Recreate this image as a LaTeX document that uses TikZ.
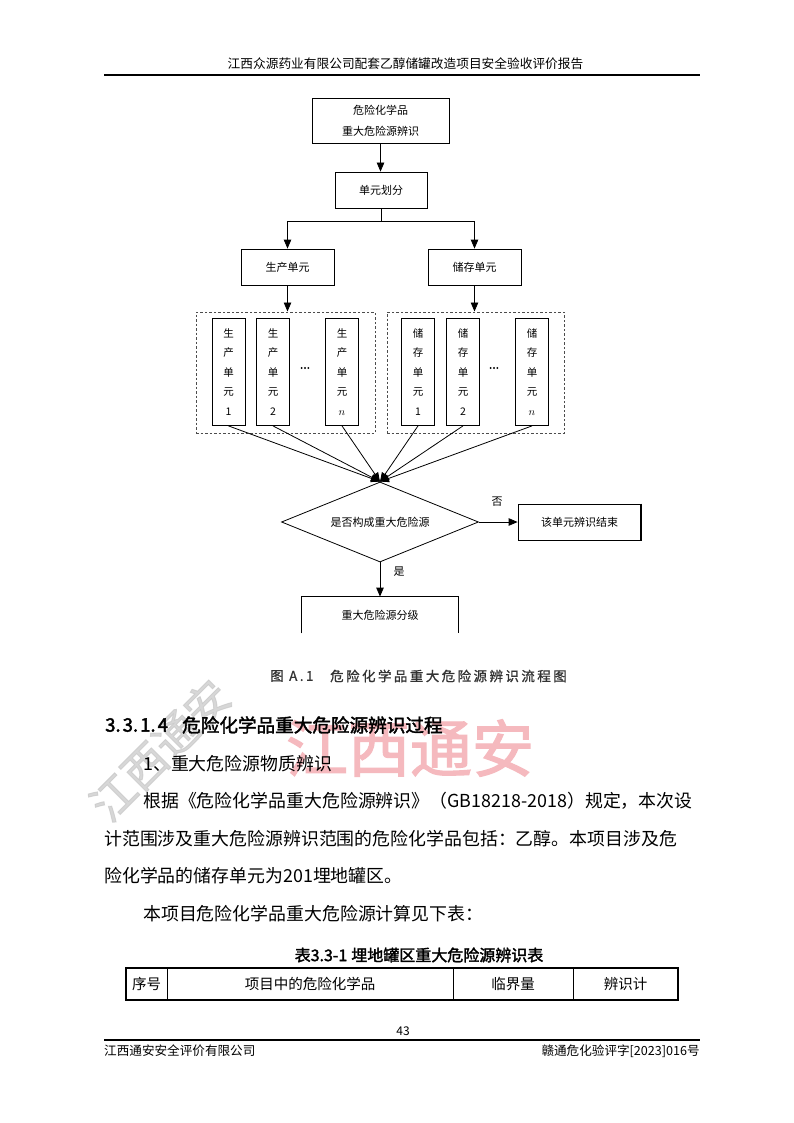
\documentclass[tikz,border=0pt]{standalone}
\usepackage{fontspec}
\setmainfont{Noto Sans CJK SC}
\newfontfamily\cjkbold[FakeBold=2]{Noto Sans CJK SC}
\newfontfamily\capfont[LetterSpace=18,FakeBold=1]{Noto Sans CJK SC}
\usepackage{tikz}
\usetikzlibrary{arrows.meta}
\usetikzlibrary{shapes.geometric}
\usepackage{xcolor}
\definecolor{wmpink}{RGB}{245,185,190}
\newcommand\setfs[1]{\fontsize{#1}{#1}\selectfont}

\begin{document}
\begin{tikzpicture}[x=1pt,y=-1pt,
    box/.style={draw, line width=0.8pt, inner sep=0pt, align=center, font=\setfs{11}},
    unitbox/.style={box, minimum width=33pt, minimum height=107pt, font=\fontsize{10.5}{19.5}\selectfont},
    grpbox/.style={draw=black!70, line width=1pt, dash pattern=on 2.5pt off 2pt, minimum height=121pt, inner sep=0pt},
    arr/.style={-{Triangle[length=9pt,width=7.5pt]}, line width=0.8pt},
    body/.style={anchor=west, inner sep=0pt, font=\setfs{17.9}},
    cell/.style={inner sep=0pt, font=\setfs{14.5}},
    rule/.style={line width=2.2pt}]
    % Page
    \fill[white] (0,0) rectangle (794,1123);
    \useasboundingbox (0,0) rectangle (794,1123);

    % Watermarks
    \node[text=wmpink, font=\cjkbold\setfs{62}, inner sep=0pt] (wmark) at (410,748) {江西通安};
    \node[text=black!22, opacity=0.7, rotate=45, font=\cjkbold\setfs{44}, inner sep=0pt] (wstamp) at (160,750) {江西通安};

    % Header
    \node[font=\setfs{12.7}, inner sep=0pt] (header) at (405.5,64) {江西众源药业有限公司配套乙醇储罐改造项目安全验收评价报告};
    \draw[rule] (104,75) -- (700,75);

    % Flow chart boxes
    \node[box, minimum width=137pt, minimum height=45pt, font=\fontsize{11}{21}\selectfont] (ident) at (380.5,120.5) {危险化学品\\重大危险源辨识};
    \node[box, minimum width=92pt, minimum height=36pt] (split) at (381,190) {单元划分};
    \node[box, minimum width=93pt, minimum height=36pt] (prod) at (287.5,267) {生产单元};
    \node[box, minimum width=93pt, minimum height=36pt] (stor) at (474.5,267) {储存单元};
    \node[grpbox, minimum width=179pt] (prodgrp) at (285.5,372.5) {};
    \node[grpbox, minimum width=177pt] (storgrp) at (475.5,372.5) {};
    \node[unitbox] (p1) at (228.5,372) {生\\产\\单\\元\\1};
    \node[unitbox] (p2) at (273,372) {生\\产\\单\\元\\2};
    \node[unitbox] (pn) at (342,372) {生\\产\\单\\元\\$n$};
    \node[unitbox] (s1) at (418,372) {储\\存\\单\\元\\1};
    \node[unitbox] (s2) at (463,372) {储\\存\\单\\元\\2};
    \node[unitbox] (sn) at (532,372) {储\\存\\单\\元\\$n$};
    \node[font=\cjkbold\setfs{12}, inner sep=0pt] (pdots) at (305,368) {...};
    \node[font=\cjkbold\setfs{12}, inner sep=0pt] (sdots) at (494,368) {...};
    \node[box, shape=diamond, aspect=2.46, minimum width=197pt, minimum height=80pt] (judge) at (380,522) {是否构成重大危险源};
    \node[box, minimum width=123pt, minimum height=36pt] (stop) at (579.5,522) {该单元辨识结束};
    \node[box, draw=none, minimum width=156pt, minimum height=36pt] (grade) at (380,615) {重大危险源分级};
    \node[font=\setfs{11}] (no) at (497,502) {否};
    \node[font=\setfs{11}] (yes) at (399,572) {是};

    % Connectors
    \coordinate (fork) at (381,221);
    \draw[arr] (ident.south) -- (ident.south |- split.north);
    \draw[line width=0.8pt] (split.south) -- (fork);
    \draw[arr] (fork) -| (prod.north);
    \draw[arr] (fork) -| (stor.north);
    \draw[arr] (prod.south) -- (prod.south |- prodgrp.north);
    \draw[arr] (stor.south) -- (stor.south |- storgrp.north);
    \foreach \u in {p1,p2,pn,s1,s2,sn}
        \draw[arr] (\u.south) -- (judge.north);
    \draw[arr] (judge.east) -- (stop.west);
    \draw[arr] (judge.south) -- (grade.north);
    \draw[line width=0.8pt] (grade.south west) -- (grade.north west) -- (grade.north east) -- (grade.south east);
    \draw[line width=2pt] (stop.north east) -- (stop.south east);

    % Caption
    \node[anchor=west, inner sep=0pt, text=black!80, font=\capfont\setfs{13.5}] (figno) at (270,676) {图 A.1};
    \node[anchor=west, inner sep=0pt, text=black!80, font=\capfont\setfs{13.5}] (figtitle) at (330,676) {危险化学品重大危险源辨识流程图};

    % Text
    \node[anchor=west, inner sep=0pt, font=\cjkbold\setfs{18.6}] (secno) at (105,725) {3.\kern2pt3.\kern2pt1.\kern2pt4};
    \node[anchor=west, inner sep=0pt, font=\cjkbold\setfs{18.6}] (sectitle) at (182,725) {危险化学品重大危险源辨识过程};
    \node[body] (item) at (143,764) {1、重大危险源物质辨识};
    \node[body] (para1) at (143,801) {根据《危险化学品重大危险源辨识》（GB18218-2018）规定，本次设};
    \node[body] (para2) at (104,839) {计范围涉及重大危险源辨识范围的危险化学品包括：乙醇。本项目涉及危};
    \node[body] (para3) at (104,876) {险化学品的储存单元为201埋地罐区。};
    \node[body] (para4) at (143,914) {本项目危险化学品重大危险源计算见下表：};

    % Table
    \node[font=\cjkbold\setfs{16}, inner sep=0pt] (tabtitle) at (419,955) {表3.3-1\kern4pt 埋地罐区重大危险源辨识表};
    \draw[line width=1.8pt] (126,968) rectangle (678,1000);
    \draw[line width=0.9pt] (167,968) -- (167,1000) (453,968) -- (453,1000) (573,968) -- (573,1000);
    \node[cell] (hno) at (146.5,984) {序号};
    \node[cell] (hchem) at (310,984) {项目中的危险化学品};
    \node[cell] (hlim) at (513,984) {临界量};
    \node[cell] (hcalc) at (625.5,984) {辨识计};

    % Footer
    \node[font=\setfs{12}, inner sep=0pt] (pageno) at (403,1031) {43};
    \draw[rule] (104,1040) -- (700,1040);
    \node[anchor=west, inner sep=0pt, font=\setfs{12.6}] (footl) at (104,1051) {江西通安安全评价有限公司};
    \node[anchor=east, inner sep=0pt, font=\setfs{12.6}] (footr) at (700,1051) {赣通危化验评字[2023]016号};
\end{tikzpicture}
\end{document}
